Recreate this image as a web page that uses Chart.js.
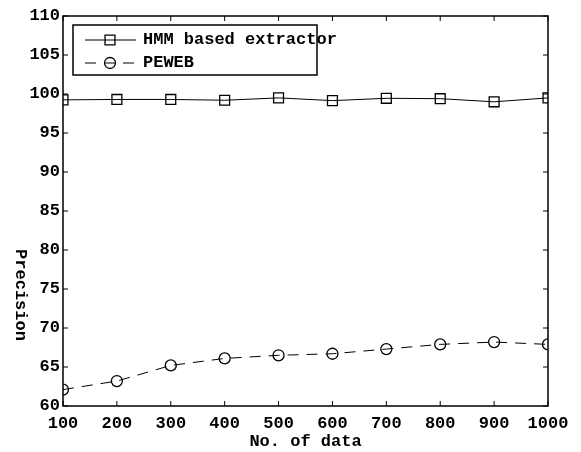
<!DOCTYPE html>
<html>
<head>
<meta charset="utf-8">
<script src="https://cdn.jsdelivr.net/npm/chart.js@4/dist/chart.umd.min.js"></script>
<style>
  html, body { margin: 0; padding: 0; background: #fff; }
  canvas { display: block; }
</style>
</head>
<body>
<canvas id="precisionChart" width="581" height="452"></canvas>
<script>
// data
const noOfData = [100, 200, 300, 400, 500, 600, 700, 800, 900, 1000];
const hmmPrecision = [99.25, 99.3, 99.3, 99.2, 99.5, 99.15, 99.45, 99.4, 99.0, 99.5];
const pewebPrecision = [62.1, 63.2, 65.2, 66.1, 66.5, 66.7, 67.3, 67.9, 68.2, 67.9];
const yTicks = [60, 65, 70, 75, 80, 85, 90, 95, 100, 105, 110];

const font = "'Liberation Mono', 'DejaVu Sans Mono', monospace";

// frame, inward ticks, rotated y title and legend box
const framePlugin = {
    id: 'frame',
    afterDraw(chart) {
        const c = chart.ctx;
        const a = chart.chartArea;
        const xs = chart.scales.x, ys = chart.scales.y;
        c.save();
        c.strokeStyle = '#000';
        c.lineWidth = 1.5;
        c.strokeRect(a.left, a.top, a.right - a.left, a.bottom - a.top);
        c.lineWidth = 1;
        c.beginPath();
        noOfData.forEach(v => {
            const px = xs.getPixelForValue(v);
            c.moveTo(px, a.bottom); c.lineTo(px, a.bottom - 5);
            c.moveTo(px, a.top); c.lineTo(px, a.top + 5);
        });
        yTicks.forEach(v => {
            const py = ys.getPixelForValue(v);
            c.moveTo(a.left, py); c.lineTo(a.left + 5, py);
            c.moveTo(a.right, py); c.lineTo(a.right - 5, py);
        });
        c.stroke();

        // y title, reading top to bottom, sits low as in the original
        c.save();
        c.translate(20, 295);
        c.rotate(Math.PI / 2);
        c.font = 'bold 17px ' + font;
        c.fillStyle = '#000';
        c.textAlign = 'center';
        c.textBaseline = 'middle';
        c.fillText('Precision', 0, 0);
        c.restore();

        // legend (text runs past the box, as in the original)
        const lx = a.left + 10, ly = a.top + 9, lw = 244, lh = 50;
        c.fillStyle = '#fff';
        c.fillRect(lx, ly, lw, lh);
        c.lineWidth = 1.5;
        c.strokeRect(lx, ly, lw, lh);
        chart.data.datasets.forEach((ds, i) => {
            const y = ly + 15 + i * 23;
            c.lineWidth = 1;
            c.setLineDash(ds.borderDash || []);
            c.beginPath();
            c.moveTo(lx + 12, y); c.lineTo(lx + 63, y);
            c.stroke();
            c.setLineDash([]);
            c.fillStyle = 'rgba(0,0,0,0)';
            c.lineWidth = ds.pointBorderWidth;
            Chart.helpers.drawPoint(c, {pointStyle: ds.pointStyle, radius: ds.pointRadius, rotation: 0, borderWidth: ds.pointBorderWidth}, lx + 37, y);
            c.font = 'bold 17px ' + font;
            c.fillStyle = '#000';
            c.textAlign = 'left';
            c.textBaseline = 'middle';
            c.fillText(ds.label, lx + 70, y);
        });
        c.restore();
    }
};

const ctx = document.getElementById('precisionChart').getContext('2d');
const precisionChart = new Chart(ctx, {
    type: 'line',
    data: {
        datasets: [{
            label: 'HMM based extractor',
            data: noOfData.map((x, i) => ({x: x, y: hmmPrecision[i]})),
            borderColor: '#000',
            backgroundColor: 'rgba(0,0,0,0)',
            borderWidth: 1,
            pointStyle: 'rect',
            pointRadius: 7,
            pointBorderWidth: 1.3,
            pointBorderColor: '#000',
            pointBackgroundColor: 'rgba(0,0,0,0)'
        }, {
            label: 'PEWEB',
            data: noOfData.map((x, i) => ({x: x, y: pewebPrecision[i]})),
            borderColor: '#000',
            backgroundColor: 'rgba(0,0,0,0)',
            borderWidth: 1,
            borderDash: [11, 8],
            pointStyle: 'circle',
            pointRadius: 5.5,
            pointBorderWidth: 1.3,
            pointBorderColor: '#000',
            pointBackgroundColor: 'rgba(0,0,0,0)'
        }]
    },
    options: {
        responsive: false,
        animation: false,
        devicePixelRatio: 1,
        layout: { padding: { top: 16, right: 33, left: 0, bottom: 0 } },
        plugins: { legend: { display: false }, tooltip: { enabled: false } },
        scales: {
            x: {
                type: 'linear',
                min: 100, max: 1000,
                afterFit(s) { s.height = 46; },
                grid: { display: false, drawTicks: false },
                border: { display: false },
                ticks: {
                    stepSize: 100, autoSkip: false, maxRotation: 0, color: '#000', padding: 8,
                    font: { family: font, weight: 'bold', size: 17 },
                    callback: v => String(v)
                },
                title: { display: true, text: 'No. of data', color: '#000', padding: { top: 0, bottom: 0 }, font: { family: font, weight: 'bold', size: 17 } }
            },
            y: {
                min: 60, max: 110,
                afterFit(s) { s.width = 63; },
                grid: { display: false, drawTicks: false },
                border: { display: false },
                ticks: { stepSize: 5, autoSkip: false, color: '#000', padding: 3, font: { family: font, weight: 'bold', size: 17 } }
            }
        }
    },
    plugins: [framePlugin]
});
</script>
</body>
</html>
